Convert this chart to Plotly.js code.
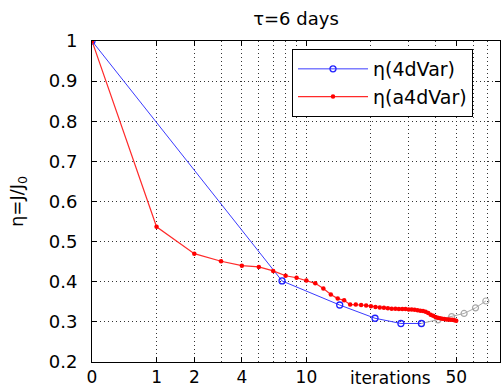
<!DOCTYPE html>
<html>
<head>
<meta charset="utf-8">
<script src="https://cdn.plot.ly/plotly-3.0.1.min.js"></script>
<style>
html,body{margin:0;padding:0;background:#fff;}
#chart{width:502px;height:388px;}
</style>
</head>
<body>
<div id="chart"></div>
<script>
// x positions on the (log) iteration axis, and values
const redX = [1,2,3,4,5,6,7,8,9,10,11,12,13,14,15,16,17,18,19,20,21,22,23,24,25,26,27,28,29,30,31,32,33,34,35,36,37,38,39,40,41,42,43,44,45,46,47,48,49,50];
const redY = [1.000,0.537,0.470,0.451,0.440,0.437,0.427,0.415,0.410,0.403,0.396,0.383,0.368,0.358,0.354,0.343,0.343,0.342,0.341,0.339,0.337,0.336,0.335,0.334,0.333,0.333,0.332,0.332,0.332,0.331,0.331,0.330,0.329,0.328,0.327,0.325,0.322,0.318,0.315,0.312,0.310,0.309,0.308,0.307,0.306,0.306,0.305,0.305,0.304,0.303];
const blueX = [1, 7.7, 14.3, 20.9, 27.6, 34.4];
const blueY = [1.000, 0.402, 0.342, 0.309, 0.296, 0.296];
const greyX = [34.4, 41.1, 47.6, 54.4, 61.5, 68.7];
const greyY = [0.296, 0.305, 0.313, 0.321, 0.335, 0.352];
const seriesNames = ['η(4dVar)', 'η(a4dVar)'];
const xTickVals = [1, 2, 3, 5, 10, 50];
const xTickText = ['0', '1', '2', '4', '10', '50'];
const xGridVals = [2,3,4,5,6,7,8,9,10,20,30,40,50,60,70,80];
const titleText = 'τ=6 days';
const yTitle = 'η=J/J<sub>0</sub>';
const xLabel = 'iterations';

const FONT = 'DejaVu Sans, Arial, sans-serif';

const traces = [
  {x: greyX, y: greyY, type: 'scatter', mode: 'lines+markers', showlegend: false,
   line: {color: '#a8a8a8', width: 1},
   marker: {symbol: 'circle-open', size: 6, color: '#a8a8a8', line: {width: 1.2}}},
  {x: blueX, y: blueY, type: 'scatter', mode: 'lines+markers', name: seriesNames[0],
   line: {color: '#3a3aff', width: 1},
   marker: {symbol: 'circle-open', size: 6, color: '#2020ff', line: {width: 1.3}}},
  {x: redX, y: redY, type: 'scatter', mode: 'lines+markers', name: seriesNames[1],
   line: {color: '#ff2a2a', width: 1.2},
   marker: {symbol: 'circle', size: 4.5, color: '#ff0000'}}
];

const layout = {
  width: 502, height: 388,
  margin: {l: 92, r: 2, t: 41, b: 26, pad: 0},
  paper_bgcolor: '#fff', plot_bgcolor: '#fff',
  font: {family: FONT, size: 18, color: '#000'},
  title: {text: titleText, font: {family: FONT, size: 18, color: '#000'},
          x: 0.5, xref: 'paper', y: 1 - 19/388, yref: 'container', yanchor: 'middle'},
  xaxis: {
    type: 'log', range: [0, Math.log10(80)],
    tickmode: 'array', tickvals: xTickVals, ticktext: xTickText,
    ticks: 'inside', ticklen: 5, tickcolor: '#000',
    showline: true, linecolor: '#000', linewidth: 1, mirror: 'ticks',
    showgrid: false, zeroline: false,
    ticklabelstandoff: 0,
    tickfont: {family: FONT, size: 17, color: '#000'},
    minor: {tickmode: 'array', tickvals: xGridVals, showgrid: true, gridcolor: '#333', griddash: '1px,3px', gridwidth: 1, ticks: ''}
  },
  yaxis: {
    range: [0.2, 1], dtick: 0.1, tick0: 0.2,
    ticks: 'inside', ticklen: 5, tickcolor: '#000',
    showline: true, linecolor: '#000', linewidth: 1, mirror: 'ticks',
    showgrid: true, gridcolor: '#333', griddash: '1px,3px', gridwidth: 1, zeroline: false,
    ticklabelstandoff: 10,
    tickfont: {family: FONT, size: 18, color: '#000'},
    title: {text: yTitle, font: {family: FONT, size: 18, color: '#000'}, standoff: 20}
  },
  legend: {
    x: (292-92)/408, y: (362-49)/321, xanchor: 'left', yanchor: 'top',
    bgcolor: '#fff', bordercolor: '#000', borderwidth: 1,
    font: {family: FONT, size: 19, color: '#000'},
    itemwidth: 70, tracegroupgap: 0
  },
  annotations: [
    {text: xLabel, xref: 'paper', yref: 'paper', x: (390-92)/408, y: -(378-362)/321,
     xanchor: 'center', yanchor: 'middle', showarrow: false,
     font: {family: FONT, size: 17, color: '#000'}}
  ]
};

Plotly.newPlot('chart', traces, layout, {displayModeBar: false, staticPlot: true});
</script>
</body>
</html>
